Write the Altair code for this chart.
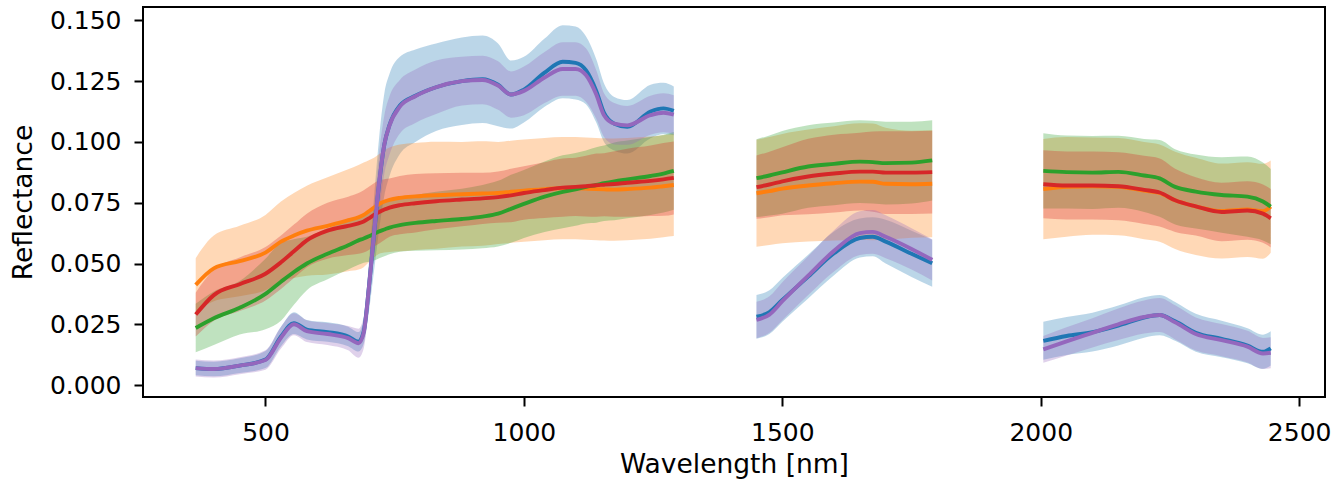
import altair as alt
import pandas as pd

# Wavelength grids of the three spectral segments (nm)
WL_SEG1 = [365, 400, 450, 500, 530, 555, 580, 620, 660, 680, 690, 700, 710, 720, 730, 740, 760, 790,
           830, 880, 920, 950, 975, 1000, 1040, 1075, 1100, 1120, 1140, 1155, 1175, 1200, 1245, 1270, 1290]
WL_SEG2 = [1450, 1475, 1500, 1550, 1600, 1650, 1675, 1700, 1750, 1790]
WL_SEG3 = [2005, 2050, 2100, 2150, 2200, 2230, 2260, 2300, 2350, 2400, 2430, 2445]

# Series means (seg1 + seg2 + seg3)
BLUE_MEAN = [0.0070, 0.0066, 0.0080, 0.0105, 0.0200, 0.0255, 0.0228, 0.0218, 0.0200, 0.0178,
             0.0220, 0.0400, 0.0620, 0.0830, 0.0990, 0.1070, 0.1150, 0.1190, 0.1225, 0.1250,
             0.1258, 0.1235, 0.1195, 0.1215, 0.1285, 0.1330, 0.1325, 0.1295, 0.1210, 0.1120,
             0.1075, 0.1062, 0.1125, 0.1138, 0.1128,
             0.0281, 0.0300, 0.0350, 0.0446, 0.0542, 0.0605, 0.0610, 0.0590, 0.0540, 0.0501,
             0.0182, 0.0202, 0.0218, 0.0245, 0.0278, 0.0288, 0.0262, 0.0215, 0.0190, 0.0162, 0.0137, 0.0151]
BLUE_STD = [0.003, 0.003, 0.003, 0.0035, 0.004, 0.0045, 0.004, 0.004, 0.004, 0.004,
            0.005, 0.010, 0.015, 0.019, 0.021, 0.021, 0.020, 0.019, 0.018, 0.018,
            0.018, 0.017, 0.014, 0.0135, 0.014, 0.015, 0.015, 0.014, 0.013, 0.012,
            0.011, 0.011, 0.011, 0.0105, 0.010,
            0.009, 0.009, 0.009, 0.009, 0.009, 0.008, 0.008, 0.009, 0.0095, 0.0097,
            0.0078, 0.0078, 0.008, 0.0082, 0.0083, 0.0083, 0.008, 0.0078, 0.0075, 0.0072, 0.007, 0.007]

ORANGE_MEAN = [0.0412, 0.0480, 0.0510, 0.0545, 0.0590, 0.0615, 0.0635, 0.0655, 0.0678, 0.0690,
               0.0700, 0.0715, 0.0730, 0.0745, 0.0755, 0.0762, 0.0770, 0.0776, 0.0781, 0.0785,
               0.0788, 0.0790, 0.0795, 0.0800, 0.0806, 0.0810, 0.0810, 0.0808, 0.0806, 0.0805,
               0.0804, 0.0806, 0.0812, 0.0818, 0.0823,
               0.0789, 0.0798, 0.0808, 0.0821, 0.0830, 0.0837, 0.0836, 0.0828, 0.0826, 0.0828,
               0.0806, 0.0815, 0.0818, 0.0816, 0.0800, 0.0790, 0.0760, 0.0735, 0.0716, 0.0722, 0.0715, 0.0734]
ORANGE_STD = [0.011, 0.0135, 0.0145, 0.0155, 0.0165, 0.0175, 0.0185, 0.0200, 0.0210, 0.0215,
              0.0215, 0.0210, 0.0205, 0.0205, 0.0210, 0.0215, 0.0220, 0.0220, 0.0220, 0.0215,
              0.0215, 0.0210, 0.0210, 0.0210, 0.0210, 0.0210, 0.0210, 0.0210, 0.0210, 0.0210,
              0.0210, 0.0210, 0.0210, 0.0210, 0.0210,
              0.022, 0.0222, 0.0225, 0.023, 0.0235, 0.024, 0.024, 0.023, 0.022, 0.022,
              0.0206, 0.0205, 0.020, 0.020, 0.020, 0.020, 0.020, 0.020, 0.0195, 0.0195, 0.0195, 0.019]

GREEN_MEAN = [0.0235, 0.0275, 0.0318, 0.0375, 0.0425, 0.0465, 0.0500, 0.0540, 0.0575, 0.0595,
              0.0603, 0.0612, 0.0622, 0.0632, 0.0640, 0.0648, 0.0658, 0.0667, 0.0675, 0.0683,
              0.0693, 0.0705, 0.0725, 0.0745, 0.0775, 0.0795, 0.0805, 0.0815, 0.0823, 0.0830,
              0.0838, 0.0846, 0.0860, 0.0870, 0.0881,
              0.0851, 0.0862, 0.0875, 0.0899, 0.0910, 0.0919, 0.0917, 0.0913, 0.0915, 0.0924,
              0.0881, 0.0876, 0.0874, 0.0877, 0.0862, 0.0850, 0.0815, 0.0796, 0.0782, 0.0775, 0.0755, 0.0734]
GREEN_STD = [0.010, 0.011, 0.011, 0.0145, 0.016, 0.0135, 0.011, 0.0105, 0.010, 0.010,
             0.010, 0.0105, 0.011, 0.011, 0.011, 0.011, 0.011, 0.0115, 0.012, 0.0125,
             0.013, 0.0135, 0.014, 0.014, 0.0145, 0.015, 0.015, 0.015, 0.0155, 0.0155,
             0.016, 0.016, 0.016, 0.016, 0.016,
             0.016, 0.0165, 0.017, 0.017, 0.017, 0.017, 0.017, 0.017, 0.0168, 0.0165,
             0.0155, 0.015, 0.015, 0.0148, 0.015, 0.0158, 0.0155, 0.0152, 0.0155, 0.0165, 0.016, 0.0155]

RED_MEAN = [0.0290, 0.0370, 0.0415, 0.0458, 0.0505, 0.0550, 0.0595, 0.0635, 0.0655, 0.0665,
            0.0673, 0.0686, 0.0700, 0.0712, 0.0722, 0.0730, 0.0740, 0.0748, 0.0756, 0.0763,
            0.0768, 0.0773, 0.0780, 0.0790, 0.0802, 0.0812, 0.0815, 0.0818, 0.0822, 0.0824,
            0.0827, 0.0832, 0.0840, 0.0846, 0.0852,
            0.0814, 0.0825, 0.0838, 0.0858, 0.0870, 0.0878, 0.0878, 0.0874, 0.0874, 0.0876,
            0.0826, 0.0821, 0.0821, 0.0818, 0.0803, 0.0792, 0.0760, 0.0735, 0.0712, 0.0718, 0.0705, 0.0686]
RED_STD = [0.009, 0.0105, 0.011, 0.011, 0.011, 0.011, 0.011, 0.0115, 0.012, 0.0125,
           0.0128, 0.013, 0.013, 0.013, 0.0125, 0.012, 0.012, 0.012, 0.0115, 0.011,
           0.0105, 0.0105, 0.011, 0.011, 0.0115, 0.012, 0.012, 0.0125, 0.013, 0.013,
           0.0135, 0.014, 0.0145, 0.015, 0.015,
           0.013, 0.0135, 0.014, 0.0155, 0.016, 0.016, 0.0165, 0.017, 0.017, 0.017,
           0.014, 0.014, 0.014, 0.014, 0.014, 0.014, 0.013, 0.012, 0.012, 0.012, 0.012, 0.012]

PURPLE_MEAN = [0.0070, 0.0066, 0.0080, 0.0103, 0.0195, 0.0250, 0.0222, 0.0210, 0.0193, 0.0172,
               0.0215, 0.0400, 0.0625, 0.0835, 0.0990, 0.1068, 0.1145, 0.1188, 0.1225, 0.1250,
               0.1255, 0.1232, 0.1195, 0.1210, 0.1265, 0.1300, 0.1300, 0.1275, 0.1195, 0.1110,
               0.1075, 0.1068, 0.1110, 0.1120, 0.1112,
               0.0268, 0.0290, 0.0345, 0.0450, 0.0552, 0.0625, 0.0630, 0.0610, 0.0560, 0.0515,
               0.0147, 0.0180, 0.0215, 0.0250, 0.0280, 0.0288, 0.0258, 0.0210, 0.0185, 0.0158, 0.0130, 0.0133]
PURPLE_STD = [0.0035, 0.0035, 0.0035, 0.004, 0.0045, 0.0045, 0.0045, 0.0045, 0.005, 0.006,
              0.0065, 0.008, 0.010, 0.012, 0.012, 0.012, 0.011, 0.011, 0.011, 0.010,
              0.010, 0.010, 0.0095, 0.010, 0.0105, 0.011, 0.011, 0.011, 0.010, 0.009,
              0.0085, 0.008, 0.008, 0.008, 0.008,
              0.0075, 0.0075, 0.0078, 0.008, 0.0085, 0.009, 0.009, 0.0088, 0.0085, 0.0085,
              0.0055, 0.0058, 0.006, 0.0065, 0.0068, 0.007, 0.007, 0.0068, 0.0066, 0.0065, 0.0064, 0.0064]

SERIES = [
    ("blue", "#1f77b4", BLUE_MEAN, BLUE_STD),
    ("orange", "#ff7f0e", ORANGE_MEAN, ORANGE_STD),
    ("green", "#2ca02c", GREEN_MEAN, GREEN_STD),
    ("red", "#d62728", RED_MEAN, RED_STD),
    ("purple", "#9467bd", PURPLE_MEAN, PURPLE_STD),
]

X_TICKS = [500, 1000, 1500, 2000, 2500]
Y_TICKS = [0.0, 0.025, 0.05, 0.075, 0.1, 0.125, 0.15]

wl_all = WL_SEG1 + WL_SEG2 + WL_SEG3
seg_all = [1] * len(WL_SEG1) + [2] * len(WL_SEG2) + [3] * len(WL_SEG3)

FONT = "DejaVu Sans"
xscale = alt.Scale(domain=[263, 2550], nice=False, zero=False)
yscale = alt.Scale(domain=[-0.0049, 0.1555], nice=False, zero=False)

xaxis = alt.Axis(values=X_TICKS, format="d", title="Wavelength [nm]", grid=False, domain=False,
                 tickSize=9, tickWidth=2, tickColor="black", labelColor="black",
                 labelFontSize=25, labelFont=FONT, labelPadding=14, labelFlush=False,
                 titleFont=FONT, titleFontSize=26.5, titleFontWeight="normal", titleColor="black",
                 titlePadding=6)
yaxis = alt.Axis(values=Y_TICKS, format=".3f", title="Reflectance", grid=False, domain=False,
                 tickSize=9, tickWidth=2, tickColor="black", labelColor="black",
                 labelFontSize=25, labelFont=FONT, labelPadding=13, labelFlush=False,
                 titleFont=FONT, titleFontSize=26.5, titleFontWeight="normal", titleColor="black",
                 titlePadding=12)

bands = []
lines = []
for name, color, mean, std in SERIES:
    assert len(mean) == len(wl_all) and len(std) == len(wl_all)
    df = pd.DataFrame({
        "wl": wl_all, "seg": seg_all, "mean": mean,
        "lo": [m - s for m, s in zip(mean, std)],
        "hi": [m + s for m, s in zip(mean, std)],
    })
    band = alt.Chart(df).mark_area(color=color, opacity=0.3, interpolate="monotone").encode(
        x=alt.X("wl:Q", scale=xscale, axis=xaxis),
        y=alt.Y("lo:Q", scale=yscale, axis=yaxis),
        y2="hi:Q",
        detail="seg:N",
    )
    line = alt.Chart(df).mark_line(color=color, strokeWidth=3.9, strokeJoin="round",
                                   interpolate="monotone").encode(
        x=alt.X("wl:Q", scale=xscale, axis=xaxis),
        y=alt.Y("mean:Q", scale=yscale, axis=yaxis),
        detail="seg:N",
    )
    bands.append(band)
    lines.append(line)

chart = alt.layer(*bands, *lines).properties(
    width=1182, height=390,
    autosize=alt.AutoSizeParams(type="none"),
    padding={"left": 143, "top": 7, "right": 10, "bottom": 84},
    background="white",
).configure_view(stroke="black", strokeWidth=2)

chart.save("out.html", embed_options={"renderer": "svg", "actions": False})
